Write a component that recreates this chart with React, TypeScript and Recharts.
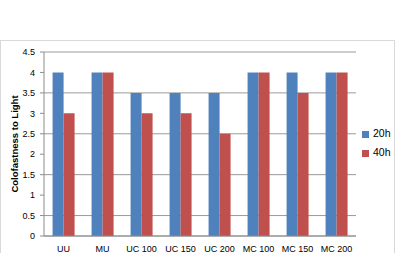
import React from 'react';
import { BarChart, Bar, XAxis, YAxis, CartesianGrid, Legend } from 'recharts';

const categories = ['UU', 'MU', 'UC 100', 'UC 150', 'UC 200', 'MC 100', 'MC 150', 'MC 200'];
const series20h = [4, 4, 3.5, 3.5, 3.5, 4, 4, 4];
const series40h = [3, 4, 3, 3, 2.5, 4, 3.5, 4];
const yTicks = [0, 0.5, 1, 1.5, 2, 2.5, 3, 3.5, 4, 4.5];

const data = categories.map((c, i) => ({ name: c, h20: series20h[i], h40: series40h[i] }));

const font = "'Liberation Sans', Arial, sans-serif";

export default function App() {
  return (
    <div style={{ position: 'absolute', left: 0, top: 0, width: 398, height: 253, overflow: 'hidden', background: '#fff', fontFamily: font }}>
      <div style={{ position: 'absolute', left: 0, top: 40, width: 395, height: 230, border: '1px solid #d9d9d9', boxSizing: 'border-box' }} />
      <div style={{ position: 'absolute', left: 0, top: 0 }}>
        <BarChart width={398} height={253} data={data} margin={{ top: 52, right: 2, bottom: 0, left: 0 }} barCategoryGap="22%" barGap={0}>
          <CartesianGrid vertical={false} stroke="#9a9a9a" strokeWidth={1} />
          <XAxis
            dataKey="name"
            height={17}
            tickLine={false}
            tickSize={6}
            tickMargin={4}
            axisLine={{ stroke: '#8c8c8c' }}
            tick={{ fontSize: 9, fill: '#000', fontFamily: font }}
            interval={0}
          />
          <YAxis
            width={44}
            domain={[0, 4.5]}
            ticks={yTicks}
            tickSize={4}
            tickMargin={5}
            tickLine={{ stroke: '#8c8c8c' }}
            axisLine={{ stroke: '#8c8c8c' }}
            tick={{ fontSize: 9, fill: '#000', fontFamily: font }}
            label={{ value: 'Colofastness to Light', angle: -90, position: 'insideLeft', offset: 0, dx: 15, style: { fontSize: 9.5, fontWeight: 'bold', fill: '#000', textAnchor: 'middle', fontFamily: font } }}
          />
          <Bar dataKey="h20" name="20h" fill="#4F81BD" isAnimationActive={false} />
          <Bar dataKey="h40" name="40h" fill="#C0504D" isAnimationActive={false} />
          <Legend
            layout="vertical"
            align="right"
            verticalAlign="middle"
            iconType="square"
            iconSize={7}
            width={40}
            wrapperStyle={{ left: 362, top: 124, width: 40, lineHeight: '19px', fontSize: 10.5, fontFamily: font }}
            formatter={(v: string) => <span style={{ color: '#000' }}>{v}</span>}
          />
        </BarChart>
      </div>
    </div>
  );
}
